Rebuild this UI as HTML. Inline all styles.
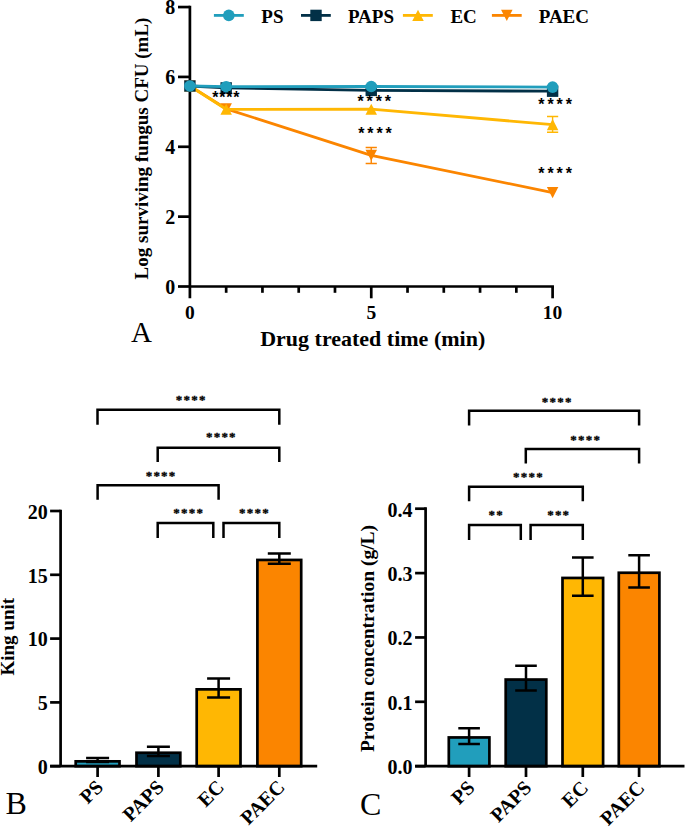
<!DOCTYPE html>
<html><head><meta charset="utf-8"><style>
html,body{margin:0;padding:0;background:#fff}
svg{display:block}
text{font-family:"Liberation Serif",serif;font-weight:bold;fill:#000}
.tl{font-size:20px}
.tlx{font-size:19.5px}
.xt{font-size:22px}
.lg{font-size:19px}
.cl{font-size:20px}
.pl{font-weight:normal}
.sa{font-family:"Liberation Sans",sans-serif;font-weight:bold;font-size:16px}
.sb{font-family:"Liberation Serif",serif;font-weight:bold;font-size:13px;letter-spacing:1.2px;stroke:#000;stroke-width:0.3px}
</style></head><body>
<svg width="685" height="827" viewBox="0 0 685 827">
<rect width="685" height="827" fill="#fff"/>
<line x1="189.9" y1="5.71" x2="189.9" y2="298.3" stroke="#000" stroke-width="2.7"/>
<line x1="178" y1="286.50" x2="189.9" y2="286.50" stroke="#000" stroke-width="2.7"/>
<text x="175.3" y="293.90" text-anchor="end" class="tl">0</text>
<line x1="178" y1="216.64" x2="189.9" y2="216.64" stroke="#000" stroke-width="2.7"/>
<text x="175.3" y="224.04" text-anchor="end" class="tl">2</text>
<line x1="178" y1="146.78" x2="189.9" y2="146.78" stroke="#000" stroke-width="2.7"/>
<text x="175.3" y="154.18" text-anchor="end" class="tl">4</text>
<line x1="178" y1="76.92" x2="189.9" y2="76.92" stroke="#000" stroke-width="2.7"/>
<text x="175.3" y="84.32" text-anchor="end" class="tl">6</text>
<line x1="178" y1="7.06" x2="189.9" y2="7.06" stroke="#000" stroke-width="2.7"/>
<text x="175.3" y="14.46" text-anchor="end" class="tl">8</text>
<line x1="189.9" y1="286.5" x2="553.95" y2="286.5" stroke="#000" stroke-width="2.7"/>
<line x1="226.17" y1="286.5" x2="226.17" y2="292.8" stroke="#000" stroke-width="2.7"/>
<line x1="262.44" y1="286.5" x2="262.44" y2="292.8" stroke="#000" stroke-width="2.7"/>
<line x1="298.71" y1="286.5" x2="298.71" y2="292.8" stroke="#000" stroke-width="2.7"/>
<line x1="334.98" y1="286.5" x2="334.98" y2="292.8" stroke="#000" stroke-width="2.7"/>
<line x1="371.25" y1="286.5" x2="371.25" y2="298.3" stroke="#000" stroke-width="2.7"/>
<line x1="407.52" y1="286.5" x2="407.52" y2="292.8" stroke="#000" stroke-width="2.7"/>
<line x1="443.79" y1="286.5" x2="443.79" y2="292.8" stroke="#000" stroke-width="2.7"/>
<line x1="480.06" y1="286.5" x2="480.06" y2="292.8" stroke="#000" stroke-width="2.7"/>
<line x1="516.33" y1="286.5" x2="516.33" y2="292.8" stroke="#000" stroke-width="2.7"/>
<line x1="552.60" y1="286.5" x2="552.60" y2="298.3" stroke="#000" stroke-width="2.7"/>
<text x="189.90" y="318.9" text-anchor="middle" class="tlx">0</text>
<text x="371.25" y="318.9" text-anchor="middle" class="tlx">5</text>
<text x="552.60" y="318.9" text-anchor="middle" class="tlx">10</text>
<text x="260.2" y="345.7" class="xt">Drug treated time (min)</text>
<text x="131" y="342" class="pl" font-size="29">A</text>
<text transform="translate(148.2,148.5) rotate(-90)" text-anchor="middle" class="yt" font-size="19">Log surviving fungus CFU (mL)</text>
<path d="M189.90,86 L226.17,108.8 L371.25,155.3 L552.60,192.6" fill="none" stroke="#FB8500" stroke-width="2.8" stroke-linejoin="round"/>
<path d="M189.90,91.55 L195.65,80.45 L184.15,80.45Z" fill="#FB8500"/>
<path d="M226.17,114.35 L231.92,103.25 L220.42,103.25Z" fill="#FB8500"/>
<path d="M365.65,147.5 H376.85 M371.25,147.5 V163.5 M365.65,163.5 H376.85" stroke="#FB8500" stroke-width="1.4" fill="none"/>
<path d="M371.25,160.85 L377.00,149.75 L365.50,149.75Z" fill="#FB8500"/>
<path d="M552.60,198.15 L558.35,187.05 L546.85,187.05Z" fill="#FB8500"/>
<path d="M189.90,86 L226.17,109.3 L371.25,109.2 L552.60,124.6" fill="none" stroke="#FFB703" stroke-width="2.8" stroke-linejoin="round"/>
<path d="M189.90,80.45 L195.65,91.55 L184.15,91.55Z" fill="#FFB703"/>
<path d="M226.17,103.75 L231.92,114.85 L220.42,114.85Z" fill="#FFB703"/>
<path d="M371.25,103.65 L377.00,114.75 L365.50,114.75Z" fill="#FFB703"/>
<path d="M547.00,116.5 H558.20 M552.60,116.5 V132.3 M547.00,132.3 H558.20" stroke="#FFB703" stroke-width="1.4" fill="none"/>
<path d="M552.60,119.05 L558.35,130.15 L546.85,130.15Z" fill="#FFB703"/>
<path d="M189.90,86 L226.17,87.9 L371.25,90.4 L552.60,91.2" fill="none" stroke="#023047" stroke-width="2.8" stroke-linejoin="round"/>
<rect x="184.20" y="80.30" width="11.4" height="11.4" fill="#023047"/>
<rect x="220.47" y="82.20" width="11.4" height="11.4" fill="#023047"/>
<rect x="365.55" y="84.70" width="11.4" height="11.4" fill="#023047"/>
<rect x="546.90" y="85.50" width="11.4" height="11.4" fill="#023047"/>
<path d="M189.90,86 L226.17,86.7 L371.25,86.5 L552.60,87.1" fill="none" stroke="#219EBC" stroke-width="2.8" stroke-linejoin="round"/>
<circle cx="189.90" cy="86.00" r="5.8" fill="#219EBC"/>
<circle cx="226.17" cy="86.70" r="5.8" fill="#219EBC"/>
<circle cx="371.25" cy="86.50" r="5.8" fill="#219EBC"/>
<circle cx="552.60" cy="87.10" r="5.8" fill="#219EBC"/>
<text x="212.20" y="103.10" class="sa" style="letter-spacing:0.8px">****</text>
<text x="357.40" y="107.30" class="sa" style="letter-spacing:2.9px">****</text>
<text x="358.20" y="139.30" class="sa" style="letter-spacing:2.9px">****</text>
<text x="538.30" y="109.80" class="sa" style="letter-spacing:2.9px">****</text>
<text x="538.30" y="179.40" class="sa" style="letter-spacing:2.9px">****</text>
<line x1="213.9" y1="15.4" x2="243.8" y2="15.4" stroke="#219EBC" stroke-width="2.8"/>
<circle cx="228.80" cy="15.40" r="5.8" fill="#219EBC"/>
<line x1="301" y1="15.4" x2="330.8" y2="15.4" stroke="#023047" stroke-width="2.8"/>
<rect x="310.30" y="9.70" width="11.4" height="11.4" fill="#023047"/>
<line x1="402.9" y1="15.4" x2="432.8" y2="15.4" stroke="#FFB703" stroke-width="2.8"/>
<path d="M418.00,9.85 L423.75,20.95 L412.25,20.95Z" fill="#FFB703"/>
<line x1="491.9" y1="15.4" x2="521.7" y2="15.4" stroke="#FB8500" stroke-width="2.8"/>
<path d="M506.80,20.95 L512.55,9.85 L501.05,9.85Z" fill="#FB8500"/>
<text x="261.3" y="23.3" class="lg">PS</text>
<text x="347.9" y="23.3" class="lg">PAPS</text>
<text x="450.4" y="23.3" class="lg">EC</text>
<text x="538.7" y="23.3" class="lg">PAEC</text>
<line x1="60.6" y1="509.65" x2="60.6" y2="766.2" stroke="#000" stroke-width="2.7"/>
<line x1="50.10" y1="511.00" x2="60.6" y2="511.00" stroke="#000" stroke-width="2.7"/>
<text x="47.7" y="518.80" text-anchor="end" class="tl" font-size="20">20</text>
<line x1="50.10" y1="574.80" x2="60.6" y2="574.80" stroke="#000" stroke-width="2.7"/>
<text x="47.7" y="582.60" text-anchor="end" class="tl" font-size="20">15</text>
<line x1="50.10" y1="638.60" x2="60.6" y2="638.60" stroke="#000" stroke-width="2.7"/>
<text x="47.7" y="646.40" text-anchor="end" class="tl" font-size="20">10</text>
<line x1="50.10" y1="702.40" x2="60.6" y2="702.40" stroke="#000" stroke-width="2.7"/>
<text x="47.7" y="710.20" text-anchor="end" class="tl" font-size="20">5</text>
<line x1="50.10" y1="766.20" x2="60.6" y2="766.20" stroke="#000" stroke-width="2.7"/>
<text x="47.7" y="774.00" text-anchor="end" class="tl" font-size="20">0</text>
<rect x="75.70" y="761.35" width="43.80" height="4.85" fill="#219EBC" stroke="#000" stroke-width="2.7"/>
<path d="M86.10,757.9 H109.10 M97.60,757.9 V762.10 M86.10,762.10 H109.10" stroke="#000" stroke-width="2.5" fill="none"/>
<rect x="136.50" y="752.75" width="43.80" height="13.45" fill="#023047" stroke="#000" stroke-width="2.7"/>
<path d="M146.90,746.8 H169.90 M158.40,746.8 V756.00 M146.90,756.00 H169.90" stroke="#000" stroke-width="2.5" fill="none"/>
<rect x="196.70" y="689.35" width="43.80" height="76.85" fill="#FFB703" stroke="#000" stroke-width="2.7"/>
<path d="M207.10,678.5 H230.10 M218.60,678.5 V697.50 M207.10,697.50 H230.10" stroke="#000" stroke-width="2.5" fill="none"/>
<rect x="257.40" y="559.95" width="43.80" height="206.25" fill="#FB8500" stroke="#000" stroke-width="2.7"/>
<path d="M267.80,553.4 H290.80 M279.30,553.4 V563.80 M267.80,563.80 H290.80" stroke="#000" stroke-width="2.5" fill="none"/>
<line x1="50.10" y1="766.2" x2="317.2" y2="766.2" stroke="#000" stroke-width="2.7"/>
<line x1="97.60" y1="766.2" x2="97.60" y2="777" stroke="#000" stroke-width="2.7"/>
<text transform="translate(104.30,788.3) rotate(-45)" text-anchor="end" class="cl">PS</text>
<line x1="158.40" y1="766.2" x2="158.40" y2="777" stroke="#000" stroke-width="2.7"/>
<text transform="translate(165.10,788.3) rotate(-45)" text-anchor="end" class="cl">PAPS</text>
<line x1="218.60" y1="766.2" x2="218.60" y2="777" stroke="#000" stroke-width="2.7"/>
<text transform="translate(225.30,788.3) rotate(-45)" text-anchor="end" class="cl">EC</text>
<line x1="279.30" y1="766.2" x2="279.30" y2="777" stroke="#000" stroke-width="2.7"/>
<text transform="translate(286.00,788.3) rotate(-45)" text-anchor="end" class="cl">PAEC</text>
<path d="M97.5,424.8 V409.8 H279.3 V424.8" fill="none" stroke="#000" stroke-width="2.5"/>
<text x="175.80" y="403.80" class="sb">****</text>
<path d="M157.7,462.1 V447.7 H279.3 V462.1" fill="none" stroke="#000" stroke-width="2.5"/>
<text x="206.00" y="441.30" class="sb">****</text>
<path d="M97.6,499.7 V485.2 H218.6 V499.7" fill="none" stroke="#000" stroke-width="2.5"/>
<text x="145.70" y="479.50" class="sb">****</text>
<path d="M157.7,538 V523.1 H213.3 V538" fill="none" stroke="#000" stroke-width="2.5"/>
<text x="173.30" y="517.40" class="sb">****</text>
<path d="M223.5,538 V523.1 H279.3 V538" fill="none" stroke="#000" stroke-width="2.5"/>
<text x="239.10" y="517.40" class="sb">****</text>
<text transform="translate(14.1,636.75) rotate(-90)" text-anchor="middle" class="yt" font-size="19">King unit</text>
<line x1="425.6" y1="507.35" x2="425.6" y2="766.2" stroke="#000" stroke-width="2.7"/>
<line x1="415.10" y1="508.70" x2="425.6" y2="508.70" stroke="#000" stroke-width="2.7"/>
<text x="412.5" y="516.50" text-anchor="end" class="tl" font-size="20">0.4</text>
<line x1="415.10" y1="573.10" x2="425.6" y2="573.10" stroke="#000" stroke-width="2.7"/>
<text x="412.5" y="580.90" text-anchor="end" class="tl" font-size="20">0.3</text>
<line x1="415.10" y1="637.45" x2="425.6" y2="637.45" stroke="#000" stroke-width="2.7"/>
<text x="412.5" y="645.25" text-anchor="end" class="tl" font-size="20">0.2</text>
<line x1="415.10" y1="701.80" x2="425.6" y2="701.80" stroke="#000" stroke-width="2.7"/>
<text x="412.5" y="709.60" text-anchor="end" class="tl" font-size="20">0.1</text>
<line x1="415.10" y1="766.20" x2="425.6" y2="766.20" stroke="#000" stroke-width="2.7"/>
<text x="412.5" y="774.00" text-anchor="end" class="tl" font-size="20">0.0</text>
<rect x="448.80" y="737.45" width="40.60" height="28.75" fill="#219EBC" stroke="#000" stroke-width="2.7"/>
<path d="M458.30,728.3 H479.90 M469.10,728.3 V743.90 M458.30,743.90 H479.90" stroke="#000" stroke-width="2.5" fill="none"/>
<rect x="505.70" y="679.55" width="40.60" height="86.65" fill="#023047" stroke="#000" stroke-width="2.7"/>
<path d="M515.20,665.8 H536.80 M526.00,665.8 V690.60 M515.20,690.60 H536.80" stroke="#000" stroke-width="2.5" fill="none"/>
<rect x="562.50" y="577.95" width="40.60" height="188.25" fill="#FFB703" stroke="#000" stroke-width="2.7"/>
<path d="M572.00,557.5 H593.60 M582.80,557.5 V595.70 M572.00,595.70 H593.60" stroke="#000" stroke-width="2.5" fill="none"/>
<rect x="618.80" y="572.75" width="40.60" height="193.45" fill="#FB8500" stroke="#000" stroke-width="2.7"/>
<path d="M628.30,555.2 H649.90 M639.10,555.2 V587.60 M628.30,587.60 H649.90" stroke="#000" stroke-width="2.5" fill="none"/>
<line x1="415.10" y1="766.2" x2="684.5" y2="766.2" stroke="#000" stroke-width="2.7"/>
<line x1="469.10" y1="766.2" x2="469.10" y2="777" stroke="#000" stroke-width="2.7"/>
<text transform="translate(475.80,789) rotate(-45)" text-anchor="end" class="cl">PS</text>
<line x1="526.00" y1="766.2" x2="526.00" y2="777" stroke="#000" stroke-width="2.7"/>
<text transform="translate(532.70,789) rotate(-45)" text-anchor="end" class="cl">PAPS</text>
<line x1="582.80" y1="766.2" x2="582.80" y2="777" stroke="#000" stroke-width="2.7"/>
<text transform="translate(589.50,789) rotate(-45)" text-anchor="end" class="cl">EC</text>
<line x1="639.10" y1="766.2" x2="639.10" y2="777" stroke="#000" stroke-width="2.7"/>
<text transform="translate(645.80,789) rotate(-45)" text-anchor="end" class="cl">PAEC</text>
<path d="M469.1,425.4 V410.7 H639.1 V425.4" fill="none" stroke="#000" stroke-width="2.5"/>
<text x="541.80" y="405.60" class="sb">****</text>
<path d="M525.8,463.4 V449 H639.1 V463.4" fill="none" stroke="#000" stroke-width="2.5"/>
<text x="570.30" y="443.60" class="sb">****</text>
<path d="M469.1,501.2 V486.7 H582.8 V501.2" fill="none" stroke="#000" stroke-width="2.5"/>
<text x="513.10" y="481.40" class="sb">****</text>
<path d="M469.1,539.9 V524.9 H520.8 V539.9" fill="none" stroke="#000" stroke-width="2.5"/>
<text x="488.50" y="518.80" class="sb">**</text>
<path d="M530.6,539.9 V524.9 H582.8 V539.9" fill="none" stroke="#000" stroke-width="2.5"/>
<text x="547.20" y="518.80" class="sb">***</text>
<text transform="translate(373.6,638.5) rotate(-90)" text-anchor="middle" class="yt" font-size="19.5">Protein concentration (g/L)</text>
<text x="5.5" y="814" class="pl" font-size="32">B</text>
<text x="360" y="814.5" class="pl" font-size="32">C</text>
</svg>
</body></html>
